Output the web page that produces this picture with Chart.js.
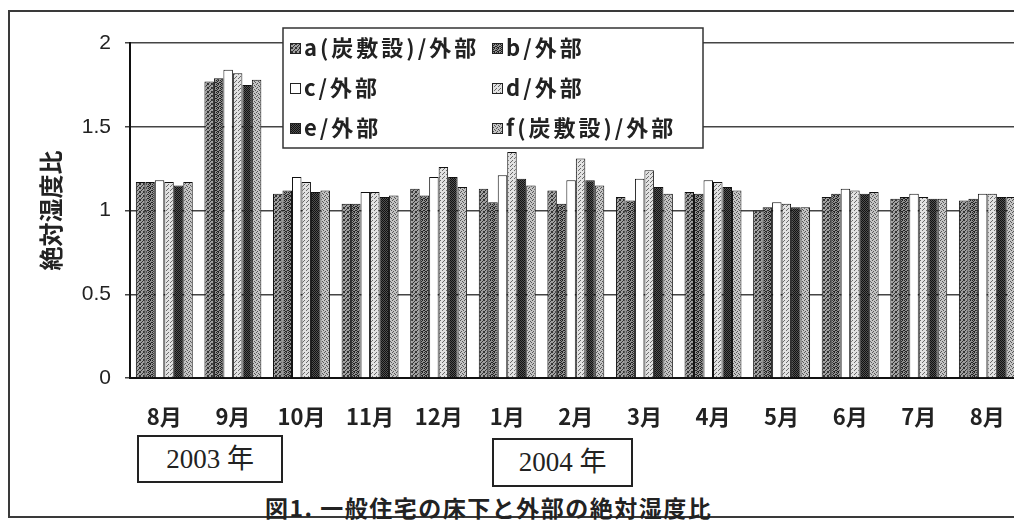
<!DOCTYPE html>
<html>
<head>
<meta charset="utf-8">
<script src="https://cdn.jsdelivr.net/npm/chart.js@4.4.1/dist/chart.umd.min.js"></script>
<style>
html,body{margin:0;padding:0;width:1014px;height:520px;overflow:hidden;background:#fff;}
#frame{position:absolute;left:8px;top:10px;width:1100px;height:508px;border:2px solid #3a3a3a;border-right:none;box-sizing:border-box;}
#wrap{position:absolute;left:0;top:0;width:1030px;height:430px;}
.yearbox{position:absolute;border:2px solid #222;box-sizing:border-box;font-family:"Liberation Serif","Noto Sans CJK JP",serif;font-size:27px;color:#222;text-align:center;}
#caption{position:absolute;left:265px;top:494px;font-family:"Noto Sans CJK JP",sans-serif;font-weight:bold;font-size:23px;letter-spacing:1.5px;color:#222;white-space:nowrap;line-height:26px;}
</style>
</head>
<body>
<div id="frame"></div>
<div id="wrap"><canvas id="c" width="1030" height="430"></canvas></div>
<div class="yearbox" style="left:137px;top:435px;width:146px;height:48px;line-height:44px;">2003 年</div>
<div class="yearbox" style="left:492px;top:438px;width:141px;height:49px;line-height:45px;">2004 年</div>
<div id="caption">図1. 一般住宅の床下と外部の絶対湿度比</div>
<script>
// ---- data ----
const months = ['8月','9月','10月','11月','12月','1月','2月','3月','4月','5月','6月','7月','8月'];
const seriesNames = ['a(炭敷設)/外部','b/外部','c/外部','d/外部','e/外部','f(炭敷設)/外部'];
const ratioA = [1.17,1.77,1.10,1.04,1.13,1.13,1.12,1.08,1.11,1.00,1.08,1.07,1.06];
const ratioB = [1.17,1.79,1.12,1.04,1.09,1.05,1.04,1.06,1.10,1.02,1.10,1.08,1.07];
const ratioC = [1.18,1.84,1.20,1.11,1.20,1.21,1.18,1.19,1.18,1.05,1.13,1.10,1.10];
const ratioD = [1.17,1.82,1.17,1.11,1.26,1.35,1.31,1.24,1.17,1.04,1.12,1.08,1.10];
const ratioE = [1.15,1.75,1.11,1.08,1.20,1.19,1.18,1.14,1.14,1.02,1.10,1.07,1.08];
const ratioF = [1.17,1.78,1.12,1.09,1.14,1.15,1.15,1.10,1.12,1.02,1.11,1.07,1.08];
const yTicks = [0, 0.5, 1, 1.5, 2];
const yTickLabels = ['0', '0.5', '1', '1.5', '2'];

// ---- styles ----
function makePattern(bg, fg, dots, size) {
  const t = document.createElement('canvas');
  t.width = t.height = size;
  const g = t.getContext('2d');
  g.fillStyle = bg; g.fillRect(0, 0, size, size);
  g.fillStyle = fg;
  dots.forEach(p => g.fillRect(p[0], p[1], 1, 1));
  return g.createPattern(t, 'repeat');
}
const fills = [
  makePattern('#a0a0a0', '#333', [[0,0],[2,1],[1,2],[3,3],[0,3],[3,0]], 4),
  makePattern('#909090', '#222', [[0,0],[2,0],[1,1],[3,2],[0,2],[2,3],[1,3]], 4),
  '#ffffff',
  makePattern('#e2e2e2', '#6a6a6a', [[0,0],[2,2],[3,1]], 4),
  makePattern('#505050', '#111', [[0,0],[2,0],[1,1],[3,1],[0,2],[2,2],[1,3],[3,3]], 4),
  makePattern('#c4c4c4', '#555', [[0,0],[2,1],[1,3],[3,2]], 4)
];
const seriesData = [ratioA, ratioB, ratioC, ratioD, ratioE, ratioF];

const legendPlugin = {
  id: 'boxLegend',
  afterDraw(chart) {
    const ctx = chart.ctx;
    const box = {x: 283, y: 28, w: 420, h: 120};
    ctx.save();
    ctx.fillStyle = '#fff';
    ctx.fillRect(box.x, box.y, box.w, box.h);
    ctx.strokeStyle = '#333';
    ctx.lineWidth = 1.5;
    ctx.strokeRect(box.x, box.y, box.w, box.h);
    ctx.font = 'bold 22px "Noto Sans CJK JP", sans-serif';
    ctx.letterSpacing = '3px';
    ctx.textBaseline = 'middle';
    chart.data.datasets.forEach((ds, i) => {
      const col = i % 2, row = Math.floor(i / 2);
      const sx = col === 0 ? 290 : 492;
      const cy = 48 + row * 40;
      ctx.fillStyle = ds.backgroundColor;
      ctx.fillRect(sx, cy - 5, 10, 10);
      ctx.strokeStyle = '#222'; ctx.lineWidth = 1;
      ctx.strokeRect(sx + 0.5, cy - 4.5, 10, 10);
      ctx.fillStyle = '#222';
      ctx.fillText(ds.label, sx + 14, cy);
    });
    ctx.restore();
  }
};

new Chart(document.getElementById('c'), {
  type: 'bar',
  data: {
    labels: months,
    datasets: seriesNames.map((name, i) => ({
      label: name,
      data: seriesData[i],
      backgroundColor: fills[i],
      borderColor: '#111',
      borderWidth: 1,
      borderSkipped: 'bottom',
      barPercentage: 1.0,
      categoryPercentage: 0.83
    }))
  },
  options: {
    responsive: false,
    animation: false,
    devicePixelRatio: 1,
    layout: {padding: {top: 43, right: 4, left: 0, bottom: 0}},
    plugins: {legend: {display: false}, tooltip: {enabled: false}},
    scales: {
      x: {
        grid: {display: false, drawTicks: false},
        border: {display: true, color: '#111', width: 2},
        ticks: {
          padding: 25,
          color: '#222',
          font: {family: '"Noto Sans CJK JP", sans-serif', size: 22, weight: 'bold'}
        },
        afterFit(s) { s.height = 52; }
      },
      y: {
        min: 0, max: 2,
        afterBuildTicks(s) { s.ticks = yTicks.map(v => ({value: v})); },
        grid: {color: '#444', lineWidth: 1.5, drawTicks: true, tickLength: 5},
        border: {display: true, color: '#111', width: 2},
        ticks: {
          padding: 14,
          color: '#222',
          font: {family: '"Liberation Sans", Arial, sans-serif', size: 21},
          callback: (v) => yTickLabels[yTicks.indexOf(v)]
        },
        title: {
          display: true,
          text: '絶対湿度比',
          color: '#222',
          font: {family: '"Noto Sans CJK JP", sans-serif', size: 24, weight: 'bold'},
          padding: {top: 36, bottom: 0}
        },
        afterFit(s) { s.width = 130; }
      }
    }
  },
  plugins: [legendPlugin]
});
</script>
</body>
</html>
